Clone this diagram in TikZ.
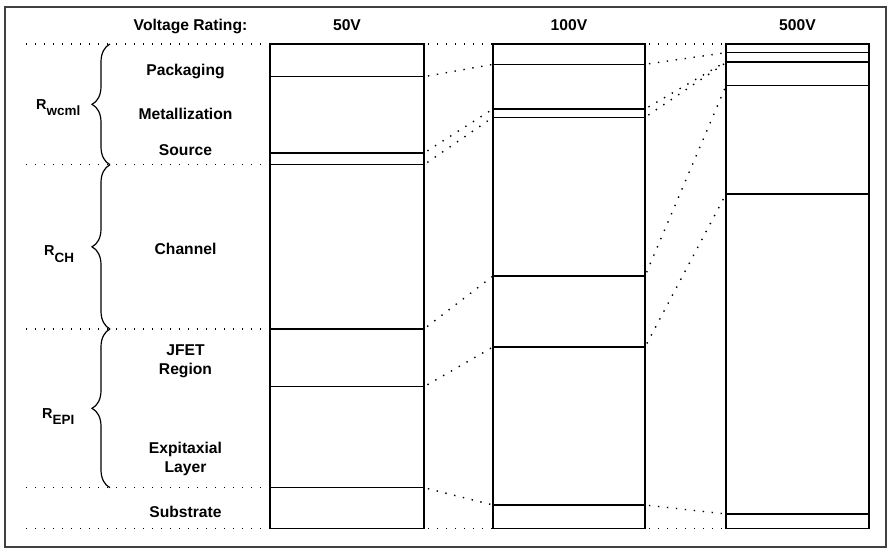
\documentclass[tikz,border=0pt]{standalone}
\usepackage{fontspec}
\setmainfont{Liberation Sans}
\usetikzlibrary{positioning, decorations.pathreplacing}

\newcommand{\resname}[1]{R\raisebox{-6.5bp}{\fontsize{13.5}{15}\selectfont #1}}

\begin{document}
\begin{tikzpicture}[
        x=1bp, y=-1bp,
        layer_label/.style={anchor=base, align=center, inner sep=0pt, font=\fontsize{15.7}{19}\selectfont\bfseries},
        header_label/.style={anchor=base, inner sep=0pt, font=\fontsize{15.7}{19}\selectfont\bfseries},
        res_label/.style={anchor=base west, inner sep=0pt, font=\fontsize{14.5}{16}\selectfont\bfseries},
        column_box/.style={draw=black, line width=1.3bp},
        boundary/.style={draw=black, line width=1.3bp},
        guide/.style={draw=black, line width=1.4bp, dash pattern=on 1.4bp off 7.6bp, dash phase=-4bp},
        brace_mark/.style={draw=black, line width=1.2bp, decorate, decoration={brace, amplitude=18bp}},
        frame/.style={draw=black!75, line width=1.5bp}
    ]
        \useasboundingbox (0,0) rectangle (894,553);
        \draw [frame] (5,7) rectangle (886,547);

        % Layer boundaries per voltage rating
        \foreach \name/\y in {a/44, b/76.7, c/153, d/164.7, e/329, f/386.7, g/487.7, h/528.7} {
            \coordinate (v50-\name-l) at (270,\y);
            \coordinate (v50-\name-r) at (424,\y);
            \coordinate (margin-\name) at (22,\y);
        }
        \foreach \name/\y in {a/44, b/64.3, c/109, d/117.3, e/276, f/347, g/505, h/528.7} {
            \coordinate (v100-\name-l) at (493,\y);
            \coordinate (v100-\name-r) at (645,\y);
        }
        \foreach \name/\y in {a/44, b/52.7, c/61.7, d/62.6, e/85.7, f/194, g/514, h/528.7} {
            \coordinate (v500-\name-l) at (726,\y);
            \coordinate (v500-\name-r) at (869,\y);
        }

        % Columns
        \foreach \col in {50, 100, 500} {
            \draw [column_box] (v\col-a-l) rectangle (v\col-h-r);
            \foreach \name in {b, c, d, e, f, g}
                \draw [boundary] (v\col-\name-l) -- (v\col-\name-r);
        }

        % Dotted links
        \foreach \name in {a, b, c, d, e, f, g, h} {
            \draw [guide] (v50-\name-r) -- (v100-\name-l);
            \draw [guide] (v100-\name-r) -- (v500-\name-l);
        }
        \foreach \name in {a, d, e, g, h}
            \draw [guide] (margin-\name) -- (v50-\name-l);

        % Headers
        \node (hdr_rating) [header_label] at (190.5,30.5) {Voltage Rating:};
        \node (hdr50) [header_label] at (347,30.5) {50V};
        \node (hdr100) [header_label] at (569,30.5) {100V};
        \node (hdr500) [header_label] at (797.5,30.5) {500V};

        % Layers
        \node (packaging) [layer_label] at (185.5,76) {Packaging};
        \node (metal) [layer_label] at (185.5,120) {Metallization};
        \node (source) [layer_label] at (185.5,156) {Source};
        \node (channel) [layer_label] at (185.5,255) {Channel};
        \node (jfet) [layer_label] at (185.5,374) {JFET\\Region};
        \node (epi) [layer_label] at (185.5,472) {Expitaxial\\Layer};
        \node (substrate) [layer_label] at (185.5,517) {Substrate};

        % Resistance groups
        \draw [brace_mark] (110,164.7) -- (110,44);
        \draw [brace_mark] (110,329) -- (110,164.7);
        \draw [brace_mark] (110,487.7) -- (110,329);
        \node (r_wcml) [res_label] at (36,109.5) {\resname{wcml}};
        \node (r_ch) [res_label] at (44,256) {\resname{CH}};
        \node (r_epi) [res_label] at (42,418) {\resname{EPI}};
    \end{tikzpicture}
\end{document}
